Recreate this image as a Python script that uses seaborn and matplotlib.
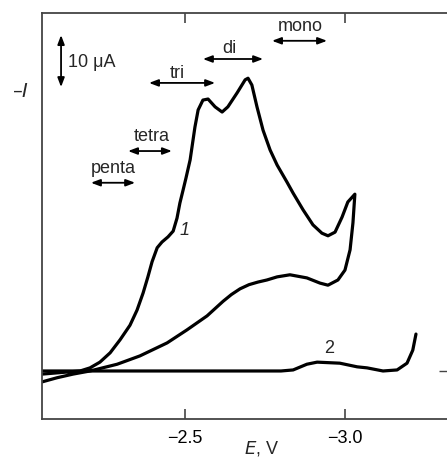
import matplotlib
matplotlib.use("Agg")
import matplotlib.pyplot as plt
import seaborn as sns
import pandas as pd

# Curve 1: forward scan then reverse scan (E in V, -I in uA)
e1 = [-2.053, -2.172, -2.203, -2.234, -2.266, -2.297, -2.328, -2.350, -2.369, -2.384,
      -2.397, -2.413, -2.428, -2.447, -2.463, -2.475, -2.484, -2.494, -2.503, -2.516,
      -2.531, -2.541, -2.556, -2.572, -2.594, -2.616, -2.634, -2.663, -2.688, -2.697,
      -2.709, -2.725, -2.744, -2.766, -2.788, -2.819, -2.838, -2.869, -2.900, -2.928,
      -2.947, -2.969, -2.991, -3.009, -3.031,
      -3.025, -3.016, -3.000, -2.978, -2.947, -2.922, -2.881, -2.828, -2.788, -2.756,
      -2.728, -2.700, -2.672, -2.645, -2.619, -2.569, -2.506, -2.444, -2.359, -2.288,
      -2.203, -2.150, -2.100, -2.053]
i1 = [-0.6, 0.0, 0.6, 1.7, 3.5, 6.0, 8.8, 11.7, 15.0, 18.1,
      21.0, 23.7, 24.8, 25.8, 26.9, 29.4, 32.3, 34.8, 37.1, 40.6,
      46.9, 50.2, 52.1, 52.3, 50.8, 49.8, 50.8, 53.5, 56.0, 56.3,
      55.0, 50.8, 46.3, 42.5, 39.6, 36.3, 34.2, 31.0, 28.1, 26.5,
      26.0, 26.7, 29.6, 32.5, 34.0,
      28.5, 23.3, 19.4, 17.5, 16.5, 16.9, 17.9, 18.5, 18.1, 17.5,
      17.1, 16.6, 15.8, 14.7, 13.4, 10.6, 7.9, 5.4, 2.9, 1.3,
      0.0, -0.6, -1.3, -2.1]

# Curve 2
e2 = [-2.053, -2.5, -2.80, -2.838, -2.881, -2.913, -2.984, -3.038, -3.069, -3.119,
      -3.163, -3.194, -3.212, -3.222]
i2 = [0.0, 0.0, 0.0, 0.2, 1.3, 1.7, 1.5, 0.8, 0.6, 0.0,
      0.2, 1.5, 4.0, 7.1]

xticks = [-2.5, -3.0]
xtick_labels = ["\u22122.5", "\u22123.0"]

species = ["mono", "di", "tri", "tetra", "penta"]
species_left = [-2.772, -2.556, -2.3875, -2.322, -2.206]
species_right = [-2.944, -2.744, -2.594, -2.459, -2.344]

FS = 13

sns.set_theme(style="ticks")
plt.rcParams["font.family"] = ["Liberation Sans", "DejaVu Sans"]

fig = plt.figure(figsize=(4.47, 4.57), dpi=100)
ax = fig.add_axes([0.094, 0.0832, 0.906, 0.8884])

df1 = pd.DataFrame({"E": e1, "I": i1})
df2 = pd.DataFrame({"E": e2, "I": i2})
sns.lineplot(data=df1, x="E", y="I", sort=False, estimator=None, color="black",
             lw=2.3, ax=ax, solid_joinstyle="round", solid_capstyle="round")
sns.lineplot(data=df2, x="E", y="I", sort=False, estimator=None, color="black",
             lw=2.3, ax=ax, solid_joinstyle="round", solid_capstyle="round")

ax.set_xlim(-2.053, -3.319)
ax.set_ylim(-9.23, 68.85)
ax.set_xticks(xticks)
ax.set_xticklabels(xtick_labels, fontsize=FS, color="black")
ax.set_yticks([0])
ax.set_yticklabels([""])
ax.set_xlabel("")
ax.set_ylabel("")
ax.tick_params(axis="x", direction="in", length=7, width=1.2, color="#444444",
               top=True, bottom=True, pad=8)
ax.tick_params(axis="y", direction="in", length=6, width=1.0, color="#444444",
               left=False, right=True, labelleft=False, labelright=False)
for s in ["left", "bottom", "top"]:
    ax.spines[s].set_color("#444444")
    ax.spines[s].set_linewidth(1.3)
ax.spines["right"].set_visible(False)

# axis labels
fig.text(262 / 447, 1 - 448 / 457, "$E$, V", ha="center", va="center", fontsize=FS)
fig.text(20 / 447, 1 - 92 / 457, "\u2013$I$", ha="center", va="center", fontsize=FS + 1)

arrow_kw = dict(arrowstyle="<|-|>,head_length=0.45,head_width=0.17",
                color="black", lw=1.3, shrinkA=0, shrinkB=0)

# scale bar
ax.annotate("", xy=(-2.1125, 64.6), xytext=(-2.1125, 54.6), arrowprops=arrow_kw)
ax.text(-2.134, 59.4, "10 \u03bcA", ha="left", va="center", fontsize=FS)

text_pos = [(-2.859, 66.3), (-2.6375, 62.0), (-2.475, 57.2), (-2.397, 45.0), (-2.275, 39.0)]
arrow_y = [63.5, 60.0, 55.4, 42.3, 36.2]
for name, l, r, (tx, ty), ay in zip(species, species_left, species_right, text_pos, arrow_y):
    ax.annotate("", xy=(l, ay), xytext=(r, ay), arrowprops=arrow_kw)
    ax.text(tx, ty, name, ha="center", va="center", fontsize=FS)

ax.text(-2.5, 27.1, "1", ha="center", va="center", fontsize=FS, style="italic")
ax.text(-2.95, 4.4, "2", ha="center", va="center", fontsize=FS)

fig.savefig("out.png", dpi=100, facecolor="white")
